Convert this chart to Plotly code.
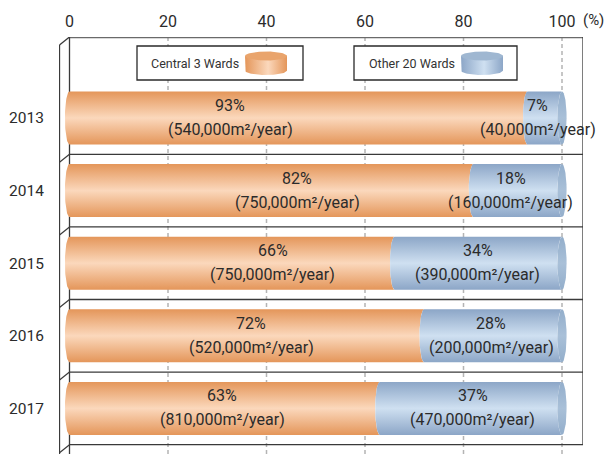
import numpy as np
import plotly.graph_objects as go

# ---------------- data ----------------
years = ["2013", "2014", "2015", "2016", "2017"]
central_pct = [93, 82, 66, 72, 63]
other_pct = [7, 18, 34, 28, 37]
central_area = ["540,000", "750,000", "750,000", "520,000", "810,000"]
other_area = ["40,000", "160,000", "390,000", "200,000", "470,000"]
x_ticks = [0, 20, 40, 60, 80, 100]
grid_vals = [20, 40, 60, 80, 100]
legend_names = ["Central 3 Wards", "Other 20 Wards"]

# label anchor positions (x, in % units) as placed in the original
central_label_x = [32.6, 46.2, 41.3, 36.9, 31.0]
other_label_x = [95.1, 89.6, 82.9, 85.6, 81.9]

# ---------------- layout constants ----------------
W, H = 612, 454
ML, MR, MT, MB = 59, 29, 37, 0
PW, PH = W - ML - MR, H - MT - MB
X0PX, XSCALE = 69.5, 4.925      # px of 0%, px per %
Y0PX, YSCALE = 118.0, 72.6      # px of first row, px per row


def px2x(p):
    return (p - X0PX) / XSCALE


def px2y(p):
    return (p - Y0PX) / YSCALE


XMIN, XMAX = px2x(ML), px2x(W - MR)
YTOP, YBOT = px2y(MT), px2y(H - MB)

A = 4.6 / XSCALE        # ellipse half-width of cylinder ends (x units)
HB = 26.5 / YSCALE      # half-height of the bars (row units)

OR_EDGE, OR_LIGHT = "#E4965A", "#FBD8BC"
BL_EDGE, BL_LIGHT = "#8CA6C7", "#CFE0F1"
BL_CAP_EDGE, BL_CAP_MID = "#93AECB", "#A9C0D8"
TXT = "#2b2b2b"
FONT_TXT = "Roboto, sans-serif"
FONT_NUM = "Roboto, sans-serif"

fig = go.Figure()

t = np.linspace(-np.pi / 2, np.pi / 2, 40)


def left_arc(x0, yc):
    return x0 - A * np.cos(t), yc + HB * np.sin(t)


def segment(x_start, x_end, yc, edge, light):
    xa, ya = left_arc(x_start, yc)
    xb, yb = left_arc(x_end, yc)
    xs = np.concatenate([xa, xb[::-1], xa[:1]])
    ys = np.concatenate([ya, yb[::-1], ya[:1]])
    fig.add_trace(go.Scatter(
        x=xs, y=ys, mode="lines", fill="toself", line=dict(width=0),
        fillgradient=dict(type="vertical",
                          colorscale=[[0, edge], [0.5, light], [1, edge]]),
        hoverinfo="skip", showlegend=False))


tt = np.linspace(0, 2 * np.pi, 80)
for i, yr in enumerate(years):
    c = central_pct[i]
    total = central_pct[i] + other_pct[i]
    segment(0, c, i, OR_EDGE, OR_LIGHT)
    segment(c, total, i, BL_EDGE, BL_LIGHT)
    # visible end face of the cylinder
    fig.add_trace(go.Scatter(
        x=total + A * np.cos(tt), y=i + HB * np.sin(tt), mode="lines",
        fill="toself", line=dict(width=0),
        fillgradient=dict(type="vertical",
                          colorscale=[[0, BL_CAP_EDGE], [0.5, BL_CAP_MID], [1, BL_CAP_EDGE]]),
        hoverinfo="skip", showlegend=False))

# ---------------- labels ----------------
annotations = []
dy_top, dy_bot = 12.5 / YSCALE, 11.5 / YSCALE
for i in range(len(years)):
    for lx, pct, area in ((central_label_x[i], central_pct[i], central_area[i]),
                          (other_label_x[i], other_pct[i], other_area[i])):
        annotations.append(dict(x=lx, y=i - dy_top, text=f"{pct}%", showarrow=False,
                                xref="x", yref="y",
                                font=dict(family=FONT_TXT, size=16, color=TXT)))
        annotations.append(dict(x=lx, y=i + dy_bot, text=f"({area}m²/year)",
                                showarrow=False, xref="x", yref="y",
                                font=dict(family=FONT_TXT, size=16, color=TXT)))

annotations.append(dict(x=(593 - ML) / PW, y=1 + (MT - 20) / PH, text="(%)",
                        showarrow=False, xref="paper", yref="paper",
                        xanchor="center", yanchor="middle",
                        font=dict(family=FONT_NUM, size=15, color=TXT)))

# ---------------- frame & grid ----------------
shapes = []
for g in grid_vals:
    shapes.append(dict(type="line", xref="x", yref="y", x0=g, x1=g, y0=YTOP, y1=YBOT,
                       line=dict(color="#b4b4b4", width=1.5, dash="4px,3px"), layer="below"))

FR = dict(color="#3a3a3a", width=1.3)
RIGHT = px2x(583)
BACK = px2x(59.5)
BEV = 8 / YSCALE
shapes.append(dict(type="line", xref="x", yref="y", x0=0, x1=RIGHT, y0=YTOP + 0.3 / YSCALE,
                   y1=YTOP + 0.3 / YSCALE, line=dict(color="#6a6a6a", width=2), layer="below"))
shapes.append(dict(type="line", xref="x", yref="y", x0=0, x1=0, y0=YTOP, y1=YBOT,
                   line=FR, layer="below"))
shapes.append(dict(type="line", xref="x", yref="y", x0=BACK, x1=BACK, y0=YTOP + BEV, y1=YBOT,
                   line=FR, layer="below"))
shapes.append(dict(type="line", xref="x", yref="y", x0=BACK, x1=0, y0=YTOP + BEV, y1=YTOP,
                   line=FR, layer="below"))
shapes.append(dict(type="line", xref="x", yref="y", x0=RIGHT, x1=RIGHT, y0=YTOP,
                   y1=len(years) - 0.5, line=FR, layer="below"))
for i in range(len(years)):
    ys = i + 0.5
    shapes.append(dict(type="line", xref="x", yref="y", x0=0, x1=RIGHT, y0=ys, y1=ys,
                       line=FR, layer="below"))
    shapes.append(dict(type="line", xref="x", yref="y", x0=0, x1=BACK, y0=ys, y1=ys + BEV,
                       line=FR, layer="below"))

# ---------------- legend boxes ----------------
legend_boxes = [(137, 303, 149, 266, OR_EDGE, OR_LIGHT, "#E9A46C"),
                (354, 517, 367, 482, BL_EDGE, BL_LIGHT, "#9FB7D1")]
for name, (bx0, bx1, tx, icx, edge, light, topc) in zip(legend_names, legend_boxes):
    shapes.append(dict(type="rect", xref="x", yref="y", x0=px2x(bx0), x1=px2x(bx1),
                       y0=px2y(46), y1=px2y(80), line=dict(color="#2a2a2a", width=1.3),
                       fillcolor="white", layer="below"))
    annotations.append(dict(x=px2x(tx), y=px2y(63.5), text=name, showarrow=False,
                            xanchor="left", xref="x", yref="y",
                            font=dict(family=FONT_TXT, size=12.5, color="#333333")))
    # small cylinder icon
    hw = 21 / XSCALE
    eh = 4.5 / YSCALE
    ytop_c, ybot_c = px2y(56), px2y(70.5)
    s = np.linspace(0, np.pi, 40)
    cx = px2x(icx)
    bx = np.concatenate([[cx - hw], cx - hw * np.cos(s), [cx + hw, cx - hw]])
    by = np.concatenate([[ytop_c], ybot_c + eh * np.sin(s), [ytop_c, ytop_c]])
    fig.add_trace(go.Scatter(
        x=bx, y=by, mode="lines", fill="toself", line=dict(width=0),
        fillgradient=dict(type="horizontal",
                          colorscale=[[0, edge], [0.55, light], [1, edge]]),
        hoverinfo="skip", showlegend=False))
    fig.add_trace(go.Scatter(
        x=cx + hw * np.cos(tt), y=ytop_c + eh * np.sin(tt), mode="lines",
        fill="toself", fillcolor=topc, line=dict(width=0),
        hoverinfo="skip", showlegend=False))

fig.update_layout(
    width=W, height=H, margin=dict(l=ML, r=MR, t=MT, b=MB),
    paper_bgcolor="white", plot_bgcolor="white",
    shapes=shapes, annotations=annotations, showlegend=False,
    xaxis=dict(range=[XMIN, XMAX], side="top", tickvals=x_ticks,
               ticktext=[str(v) for v in x_ticks], showgrid=False, zeroline=False,
               showline=False, ticks="outside", ticklen=3, tickcolor="rgba(0,0,0,0)",
               tickfont=dict(family=FONT_NUM, size=16, color=TXT),
               fixedrange=True),
    yaxis=dict(range=[YBOT, YTOP], tickvals=list(range(len(years))), ticktext=years,
               showgrid=False, zeroline=False, showline=False, ticks="outside",
               ticklen=11, tickcolor="rgba(0,0,0,0)",
               tickfont=dict(family=FONT_NUM, size=15.5, color=TXT),
               fixedrange=True),
)

fig.write_html("out.html")
